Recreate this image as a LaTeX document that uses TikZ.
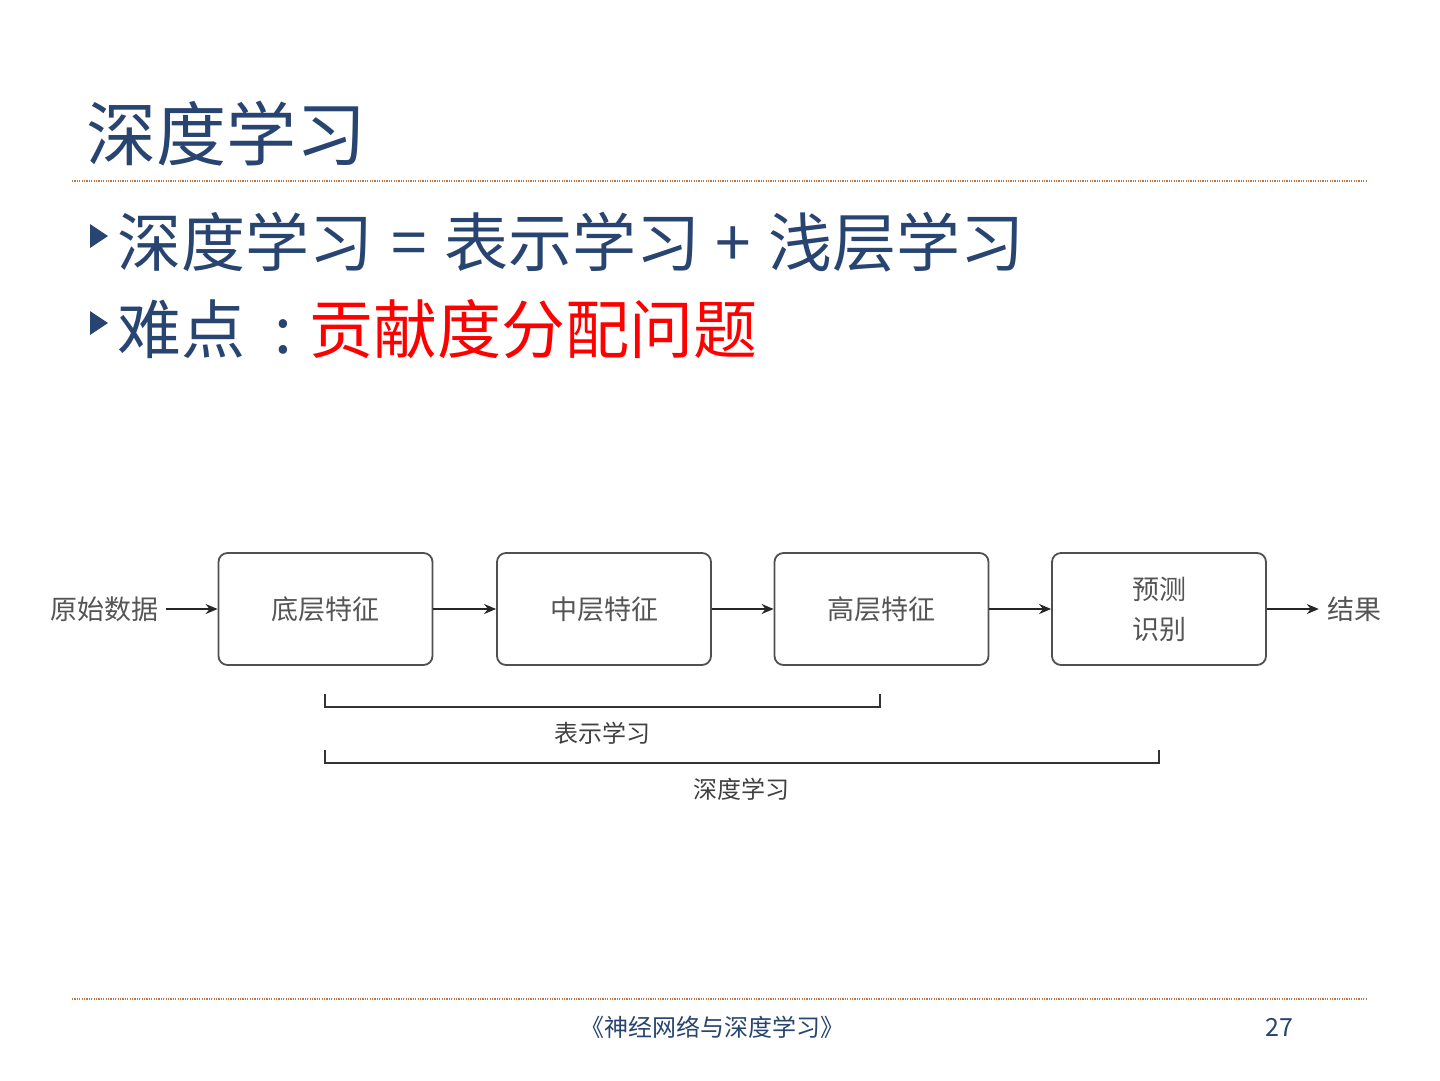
\documentclass[tikz,border=0pt]{standalone}
\usepackage{fontspec}
\setmainfont{Noto Sans CJK SC}
\usetikzlibrary{arrows.meta}
\definecolor{titleblue}{RGB}{40,68,112}
\definecolor{dotbrown}{RGB}{190,120,70}
\definecolor{boxgray}{RGB}{80,80,80}
\definecolor{txtgray}{RGB}{85,85,85}
\tikzset{
  stagebox/.style={draw=boxgray, line width=1.8pt, rounded corners=9pt, minimum width=214pt, minimum height=112pt, inner sep=0pt, text=txtgray, font=\fontsize{27pt}{40pt}\selectfont, align=center},
  plainlabel/.style={text=txtgray, font=\fontsize{27pt}{32pt}\selectfont, inner sep=0pt},
  flow/.style={draw=black!85, line width=1.8pt, -{Stealth[length=12pt,width=10pt]}},
  bracketline/.style={draw=black!80, line width=1.6pt},
  bracketlabel/.style={text=black!75, font=\fontsize{24pt}{28pt}\selectfont, inner sep=0pt},
  ruleline/.style={draw=dotbrown, line width=1.3pt, dash pattern=on 1.2pt off 1.2pt},
  bullet/.style={fill=titleblue},
  bigtext/.style={anchor=base west, inner sep=0pt, text=titleblue, font=\fontsize{64pt}{72pt}\selectfont},
  bigsym/.style={anchor=base, inner sep=0pt, text=titleblue, font=\fontsize{64pt}{72pt}\selectfont},
}
\begin{document}
\begin{tikzpicture}[x=1pt,y=-1pt]
\useasboundingbox[fill=white] (0,0) rectangle (1440,1080);
% title
\node[anchor=base west, inner sep=0pt, text=titleblue, font=\fontsize{70pt}{80pt}\selectfont] (title) at (86,160) {深度学习};
\coordinate (r1a) at (72,181);
\coordinate (r1b) at (1366,181);
\draw[ruleline] (r1a) -- (r1b);
% bullets
\fill[bullet] (90,224) -- (108,236) -- (90,248) -- cycle;
\node[bigtext] (b1a) at (117,266) {深度学习};
\node[bigsym] (b1b) at (409,266) {=};
\node[bigtext] (b1c) at (444,266) {表示学习};
\node[bigsym] (b1d) at (733,266) {+};
\node[bigtext] (b1e) at (768,266) {浅层学习};
\fill[bullet] (90,311) -- (108,323) -- (90,335) -- cycle;
\node[bigtext] (b2a) at (117,353) {难点};
\node[bigsym] (b2b) at (283,353) {:};
\node[bigtext, text=red] (b2c) at (309,353) {贡献度分配问题};
% diagram
\node[plainlabel] (raw) at (104,609) {原始数据};
\node[stagebox] (low) at (325.5,609) {底层特征};
\node[stagebox] (mid) at (604,609) {中层特征};
\node[stagebox] (high) at (881.5,609) {高层特征};
\node[stagebox] (pred) at (1159,609) {预测\\识别};
\node[plainlabel] (res) at (1354,609) {结果};
\draw[flow] (raw.east) ++(8,0) -- (low.west);
\draw[flow] (low) -- (mid);
\draw[flow] (mid) -- (high);
\draw[flow] (high) -- (pred);
\draw[flow] (pred.east) -- ([xshift=-8pt]res.west);
% brackets
\coordinate (ba1) at (325,694);
\coordinate (ba2) at (325,707);
\coordinate (ba3) at (880,707);
\coordinate (ba4) at (880,694);
\draw[bracketline] (ba1) -- (ba2) -- (ba3) -- (ba4);
\node[bracketlabel] (lab1) at (602,733) {表示学习};
\coordinate (bb1) at (325,750);
\coordinate (bb2) at (325,763);
\coordinate (bb3) at (1159,763);
\coordinate (bb4) at (1159,750);
\draw[bracketline] (bb1) -- (bb2) -- (bb3) -- (bb4);
\node[bracketlabel] (lab2) at (741,789) {深度学习};
% footer
\coordinate (r2a) at (72,999);
\coordinate (r2b) at (1366,999);
\draw[ruleline] (r2a) -- (r2b);
\node[text=titleblue, inner sep=0pt, font=\fontsize{24pt}{28pt}\selectfont] (foot) at (712,1027) {《神经网络与深度学习》};
\node[text=titleblue, inner sep=0pt, font=\fontsize{25pt}{28pt}\selectfont] (page) at (1279,1027) {27};
\end{tikzpicture}
\end{document}
